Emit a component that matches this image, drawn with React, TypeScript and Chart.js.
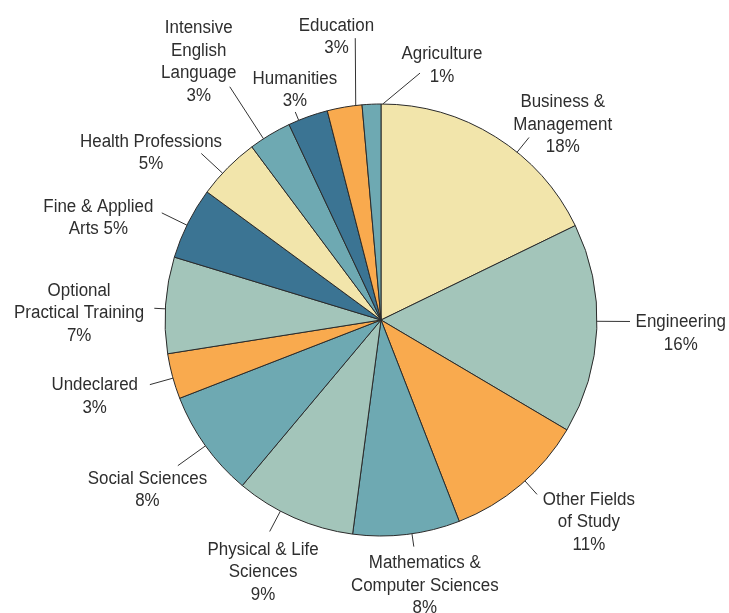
import React, { useEffect, useRef } from "react";
import { Chart, registerables } from "chart.js";

Chart.register(...registerables);

const categories = [
  "Business & Management",
  "Engineering",
  "Other Fields of Study",
  "Mathematics & Computer Sciences",
  "Physical & Life Sciences",
  "Social Sciences",
  "Undeclared",
  "Optional Practical Training",
  "Fine & Applied Arts",
  "Health Professions",
  "Intensive English Language",
  "Humanities",
  "Education",
  "Agriculture",
];

const shares = [17.8, 15.7, 10.6, 8.0, 9.0, 8.0, 3.4, 7.2, 5.4, 4.7, 3.2, 3.0, 2.6, 1.4];

const labelLines = [
  ["Business &", "Management", "{p}"],
  ["Engineering", "{p}"],
  ["Other Fields", "of Study", "{p}"],
  ["Mathematics &", "Computer Sciences", "{p}"],
  ["Physical & Life", "Sciences", "{p}"],
  ["Social Sciences", "{p}"],
  ["Undeclared", "{p}"],
  ["Optional", "Practical Training", "{p}"],
  ["Fine & Applied", "Arts {p}"],
  ["Health Professions", "{p}"],
  ["Intensive", "English", "Language", "{p}"],
  ["Humanities", "{p}"],
  ["Education", "{p}"],
  ["Agriculture", "{p}"],
];

const YELLOW = "#f2e5ab";
const SAGE = "#a3c5ba";
const ORANGE = "#f9aa4e";
const TEAL = "#6ea9b2";
const BLUE = "#3b7493";

const sliceColors = [YELLOW, SAGE, ORANGE, TEAL, SAGE, TEAL, ORANGE, SAGE, BLUE, YELLOW, TEAL, BLUE, ORANGE, TEAL];

// Label layout: leader-line angle nudge from slice mid (deg), extra end nudge (deg),
// leader length beyond the rim (px), text centre as polar (deg clockwise from top, distance px)
const labelLayout = [
  { nudge: 7, endNudge: 0, len: 19, ta: 42.7, td: 268 },
  { nudge: -2, endNudge: 0, len: 33, ta: 92.3, td: 300 },
  { nudge: -1.5, endNudge: 0, len: 18, ta: 134.0, td: 289 },
  { nudge: -1.4, endNudge: 0, len: 13, ta: 170.6, td: 268 },
  { nudge: 4, endNudge: 0, len: 23, ta: 205.2, td: 277 },
  { nudge: 0, endNudge: 0, len: 34, ta: 234.2, td: 288 },
  { nudge: -0.5, endNudge: 0, len: 24, ta: 255.3, td: 296 },
  { nudge: -1, endNudge: 0, len: 11, ta: 271.6, td: 302 },
  { nudge: -0.6, endNudge: 0, len: 28, ta: 290.1, td: 301 },
  { nudge: -2, endNudge: 0, len: 29, ta: 306.2, td: 285 },
  { nudge: -2, endNudge: 0, len: 62, ta: 324.9, td: 317 },
  { nudge: -2.6, endNudge: 0, len: 9, ta: 339.6, td: 247 },
  { nudge: 3, endNudge: 1.5, len: 67, ta: 351.1, td: 288 },
  { nudge: 3, endNudge: 8.5, len: 34, ta: 13.4, td: 263 },
];

const FONT = "18px 'Liberation Sans', Arial, sans-serif";
const LINE_H = 22.5;
const SCALE_X = 0.94;

const labelPlugin = {
  id: "leaderLabels",
  afterDatasetsDraw(chart: any) {
    const meta = chart.getDatasetMeta(0);
    const ctx = chart.ctx as CanvasRenderingContext2D;
    const total = shares.reduce((a, b) => a + b, 0);
    ctx.save();
    meta.data.forEach((arc: any, i: number) => {
      const { x: cx, y: cy, outerRadius: R, startAngle, endAngle } = arc.getProps(
        ["x", "y", "outerRadius", "startAngle", "endAngle"],
        true
      );
      const lay = labelLayout[i];
      const mid = (startAngle + endAngle) / 2;
      const a0 = mid + (lay.nudge * Math.PI) / 180;
      const a1 = a0 + (lay.endNudge * Math.PI) / 180;
      ctx.beginPath();
      ctx.strokeStyle = "#333333";
      ctx.lineWidth = 1;
      ctx.moveTo(cx + R * Math.cos(a0), cy + R * Math.sin(a0));
      ctx.lineTo(cx + (R + lay.len) * Math.cos(a1), cy + (R + lay.len) * Math.sin(a1));
      ctx.stroke();

      const ta = (lay.ta * Math.PI) / 180 - Math.PI / 2;
      const tx = cx + lay.td * Math.cos(ta);
      const ty = cy + lay.td * Math.sin(ta);
      const pct = Math.round((shares[i] / total) * 100) + "%";
      const lines = labelLines[i].map((s) => s.replace("{p}", pct));
      ctx.fillStyle = "#2e2e2e";
      ctx.font = FONT;
      ctx.textAlign = "center";
      ctx.textBaseline = "alphabetic";
      lines.forEach((ln, k) => {
        const ly = ty + (k - (lines.length - 1) / 2) * LINE_H + 6.5;
        ctx.save();
        ctx.translate(tx, ly);
        ctx.scale(SCALE_X, 1);
        ctx.fillText(ln, 0, 0);
        ctx.restore();
      });
    });
    ctx.restore();
  },
};

export default function App() {
  const ref = useRef<HTMLCanvasElement | null>(null);
  useEffect(() => {
    document.body.style.margin = "0";
    const canvas = ref.current;
    if (!canvas) return;
    const chart = new Chart(canvas, {
      type: "pie",
      data: {
        labels: categories,
        datasets: [
          {
            data: shares,
            backgroundColor: sliceColors,
            borderColor: "#2a2a2a",
            borderWidth: 1,
            hoverBorderWidth: 1,
            hoverOffset: 0,
            offset: 0,
          },
        ],
      },
      options: {
        responsive: false,
        animation: false,
        events: [],
        layout: { padding: { left: 164.5, right: 131.5, top: 103.5, bottom: 76.5 } },
        plugins: {
          legend: { display: false },
          tooltip: { enabled: false },
        },
      },
      plugins: [labelPlugin],
    });
    return () => chart.destroy();
  }, []);
  return (
    <div style={{ width: 729, height: 613, background: "#ffffff" }}>
      <canvas ref={ref} width={729} height={613} />
    </div>
  );
}
